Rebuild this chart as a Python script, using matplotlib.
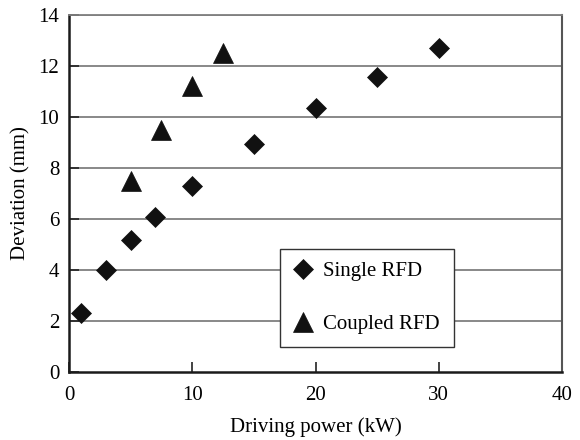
import matplotlib
matplotlib.use("Agg")
import matplotlib.pyplot as plt

# deviation vs. driving power for the two RFD set-ups
single_power = [1, 3, 5, 7, 10, 15, 20, 25, 30]
single_dev = [2.33, 4.0, 5.17, 6.09, 7.3, 8.95, 10.36, 11.56, 12.68]
coupled_power = [5, 7.5, 10, 12.5]
coupled_dev = [7.5, 9.5, 11.2, 12.5]

x_ticks = [0, 10, 20, 30, 40]
y_ticks = [0, 2, 4, 6, 8, 10, 12, 14]

plt.rcParams["font.family"] = ["Liberation Serif", "DejaVu Serif"]
plt.rcParams["font.size"] = 15

fig = plt.figure(figsize=(5.8, 4.4), dpi=100)
ax = fig.add_axes([0.119, 0.1545, 0.85, 0.812])

grid_c = "#7f7f7f"
for y in y_ticks[1:]:
    ax.axhline(y, color=grid_c, lw=1.3, zorder=1)

ax.plot(single_power, single_dev, ls="none", marker="D", ms=10.3,
        color="#111111", mec="#111111", mew=0.5, label="Single RFD", zorder=3)
ax.plot(coupled_power, coupled_dev, ls="none", marker="^", ms=14.5,
        color="#111111", mec="#111111", mew=0.5, label="Coupled RFD", zorder=3)

ax.set_xlim(0, 40)
ax.set_ylim(0, 14)
ax.set_xticks(x_ticks)
ax.set_yticks(y_ticks)
ax.tick_params(axis="x", direction="in", length=7, width=1.2, pad=10, color="#222222")
ax.tick_params(axis="y", direction="in", length=7, width=1.2, pad=7, color="#222222")

ax.spines["left"].set_linewidth(1.8)
ax.spines["bottom"].set_linewidth(1.8)
ax.spines["left"].set_color("#1a1a1a")
ax.spines["bottom"].set_color("#1a1a1a")
ax.spines["top"].set_color(grid_c)
ax.spines["top"].set_linewidth(1.3)
ax.spines["right"].set_color("#555555")
ax.spines["right"].set_linewidth(1.5)

ax.set_xlabel("Driving power (kW)", labelpad=9)
ax.set_ylabel("Deviation (mm)", labelpad=6)

leg = ax.legend(loc="lower left", bbox_to_anchor=(0.428, 0.07, 0.353, 0.278),
                mode="expand", numpoints=1, handlelength=1.0, handletextpad=0.45,
                labelspacing=1.6, borderpad=0.62, fancybox=False, framealpha=1,
                edgecolor="#333333", borderaxespad=0)
leg.get_frame().set_linewidth(1.0)

fig.savefig("out.png", dpi=100)
